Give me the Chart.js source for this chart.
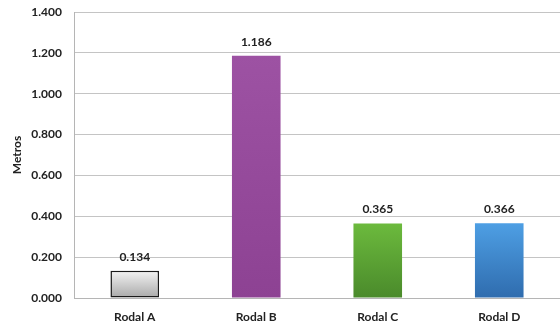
<!DOCTYPE html>
<html>
<head>
<meta charset="utf-8">
<script src="https://cdn.jsdelivr.net/npm/chart.js@4"></script>
<style>
  html, body { margin: 0; padding: 0; background: #fff; }
  #wrap { width: 560px; height: 328px; }
</style>
</head>
<body>
<div id="wrap"><canvas id="myChart" width="560" height="328"></canvas></div>
<script>
var labels = ["Rodal A", "Rodal B", "Rodal C", "Rodal D"];
var metros = [0.134, 1.186, 0.365, 0.366];
var yTicks = [0, 0.2, 0.4, 0.6, 0.8, 1.0, 1.2, 1.4];

// top / bottom colour of each bar's gradient
var topColors = ["#f4f4f4", "#9d52a3", "#6cba3d", "#4e9fe4"];
var bottomColors = ["#a8a8a8", "#8d4293", "#4a8a2b", "#2f6cae"];

var font = "Lato, 'Open Sans', sans-serif";

function barFill(c) {
  var chart = c.chart;
  if (!chart.chartArea) return topColors[c.dataIndex];
  var y = chart.scales.y;
  var top = y.getPixelForValue(metros[c.dataIndex]);
  var bottom = y.getPixelForValue(0);
  var g = chart.ctx.createLinearGradient(0, top, 0, bottom);
  g.addColorStop(0, topColors[c.dataIndex]);
  g.addColorStop(1, bottomColors[c.dataIndex]);
  return g;
}

var valueLabels = {
  id: "valueLabels",
  afterDatasetsDraw: function(chart) {
    var ctx = chart.ctx;
    var meta = chart.getDatasetMeta(0);
    ctx.save();
    ctx.font = "bold 12px " + font;
    ctx.fillStyle = "#222";
    ctx.textAlign = "center";
    ctx.textBaseline = "bottom";
    meta.data.forEach(function(bar, i) {
      ctx.fillText(metros[i].toFixed(3), bar.x, bar.y - 8);
    });
    ctx.restore();
  }
};

var ctx = document.getElementById("myChart").getContext("2d");
var myChart = new Chart(ctx, {
  type: "bar",
  data: {
    labels: labels,
    datasets: [{
      data: metros,
      backgroundColor: barFill,
      borderColor: ["#1a1a1a", "rgba(0,0,0,0)", "rgba(0,0,0,0)", "rgba(0,0,0,0)"],
      borderWidth: [1.5, 0, 0, 0],
      borderSkipped: false,
      categoryPercentage: 1,
      barPercentage: 0.4
    }]
  },
  options: {
    responsive: false,
    animation: false,
    layout: { padding: { top: 12, right: -2, left: 0, bottom: 0 } },
    plugins: {
      legend: { display: false },
      tooltip: { enabled: false }
    },
    scales: {
      x: {
        grid: { display: false, drawTicks: false },
        border: { display: true, color: "#b5b5b5", width: 1 },
        ticks: { padding: 12, color: "#222", font: { family: font, size: 12, weight: "bold" } },
        afterFit: function(s) { s.height = 30; s.paddingLeft = 0; s.paddingRight = 0; }
      },
      y: {
        min: 0,
        max: 1.4,
        afterBuildTicks: function(s) {
          s.ticks = yTicks.map(function(v) { return { value: v }; });
        },
        grid: { color: "#c4c4c4", drawTicks: false },
        border: { display: true, color: "#b5b5b5", width: 1 },
        ticks: {
          padding: 12,
          color: "#222",
          font: { family: font, size: 12, weight: "bold" },
          callback: function(v) { return Number(v).toFixed(3); }
        },
        title: {
          display: true,
          text: "Metros",
          color: "#222",
          padding: { top: 10, bottom: 0 },
          font: { family: font, size: 12, weight: "bold" }
        },
        afterFit: function(s) { s.width = 74; s.paddingTop = 0; s.paddingBottom = 0; }
      }
    }
  },
  plugins: [valueLabels]
});
</script>
</body>
</html>
